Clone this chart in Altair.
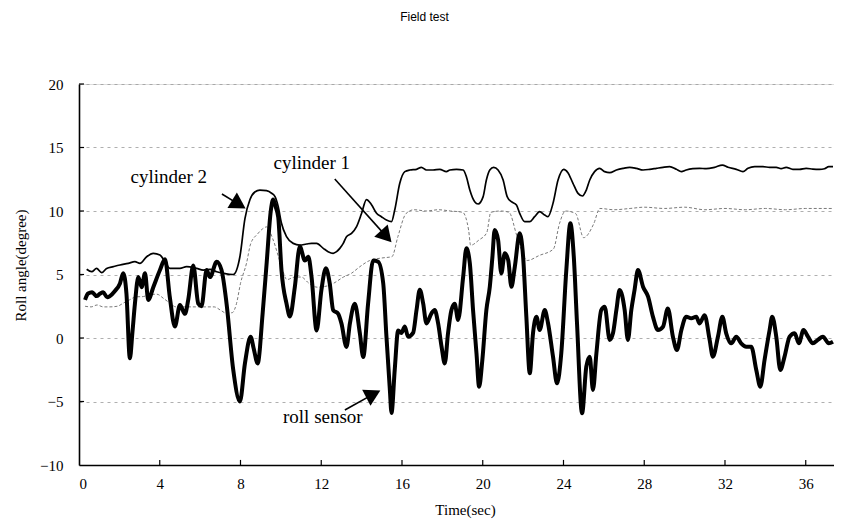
import altair as alt
import pandas as pd

# ---------------- data ----------------
roll_t = [0.30, 0.45, 0.65, 0.87, 1.05, 1.20, 1.40, 1.53, 1.78, 2.03, 2.19, 2.35, 2.52, 2.65, 2.77, 2.94,
          3.10, 3.27, 3.43, 3.68, 4.01, 4.26, 4.50, 4.75, 5.00, 5.25, 5.41, 5.66, 5.91, 6.07, 6.32, 6.49,
          6.82, 7.06, 7.31, 7.64, 7.97, 8.22, 8.50, 8.65, 8.85, 9.10, 9.30, 9.50, 9.62, 9.75, 9.87, 10.03,
          10.28, 10.45, 10.69, 10.94, 11.19, 11.36, 11.52, 11.77, 12.01, 12.23, 12.42, 12.59, 12.84, 13.00,
          13.25, 13.42, 13.66, 13.91, 14.08, 14.32, 14.57, 14.82, 15.07, 15.23, 15.40, 15.48, 15.64, 15.81,
          15.97, 16.14, 16.30, 16.55, 16.72, 16.88, 17.05, 17.21, 17.46, 17.62, 17.79, 17.96, 18.12, 18.28,
          18.45, 18.61, 18.78, 19.03, 19.19, 19.36, 19.52, 19.69, 19.82, 19.98, 20.18, 20.35, 20.48, 20.59,
          20.76, 20.92, 21.09, 21.26, 21.42, 21.59, 21.83, 22.00, 22.16, 22.33, 22.49, 22.66, 22.82, 23.07,
          23.23, 23.48, 23.68, 23.89, 24.14, 24.34, 24.51, 24.67, 24.92, 25.13, 25.30, 25.46, 25.63, 25.87,
          26.04, 26.29, 26.45, 26.62, 26.78, 27.03, 27.19, 27.36, 27.52, 27.69, 27.94, 28.19, 28.43, 28.68,
          28.93, 29.17, 29.42, 29.62, 29.84, 30.08, 30.33, 30.58, 30.74, 30.99, 31.24, 31.40, 31.65, 31.87,
          32.06, 32.31, 32.56, 32.80, 33.05, 33.30, 33.55, 33.75, 33.96, 34.21, 34.34, 34.54, 34.74, 34.95,
          35.20, 35.45, 35.66, 35.89, 36.11, 36.35, 36.60, 36.85, 37.14, 37.35]
roll_v = [3.0, 3.5, 3.6, 3.3, 3.5, 3.6, 3.2, 3.3, 3.7, 4.3, 5.1, 3.5, -1.6, 0.5, 2.7, 4.8,
          4.0, 5.1, 3.0, 4.0, 5.35, 6.2, 3.2, 0.9, 2.6, 1.9, 3.0, 5.7, 2.7, 2.5, 5.35, 4.8,
          6.0, 5.35, 2.7, -2.5, -5.0, -2.0, 0.1, -0.8, -2.0, 2.0, 6.0, 10.0, 10.9, 10.3, 9.5, 5.35,
          2.7, 1.7, 4.0, 7.2, 6.1, 6.4, 4.8, 0.6, 3.8, 5.5, 4.3, 2.2, 1.9, 1.15,
          -0.7, 1.15, 2.7, 0.4, -1.5, 2.7, 6.1, 6.0, 4.3, 0.1, -4.1, -5.9, -2.5, 0.6,
          0.4, 0.9, 0.1, 0.4, 2.2, 3.8, 2.7, 1.15, 1.94, 2.2, 1.15, -0.68, -2.0, 0.37,
          2.2, 2.7, 1.42, 4.83, 7.06, 5.88, 2.2, -1.21, -3.83, -1.73, 2.2, 4.04, 6.4, 8.5,
          7.72, 5.09, 6.67, 6.14, 4.04, 5.62, 8.24, 6.4, 1.68, -2.78, 0.37, 1.68, 0.63, 2.2,
          1.2, -1.47, -3.57, -1.21, 5.35, 9.03, 6.4, 1.15, -5.93, -2.26, -1.47, -4.09, -1.21, 2.2,
          2.47, -0.15, 0.37, 2.2, 3.78, 2.2, -0.15, 2.2, 3.78, 5.35, 4.04, 3.25, 1.68, 0.63,
          0.89, 2.33, 0.1, -0.95, 0.63, 1.68, 1.55, 1.68, 1.15, 1.8, -0.15, -1.47, 0.1, 1.68,
          0.37, -0.42, 0.1, -0.42, -0.68, -0.68, -2.52, -3.83, -1.73, 0.63, 1.68, 0.1, -2.52, -1.47,
          0.1, 0.37, -0.42, 0.63, 0.1, -0.42, -0.15, 0.1, -0.42, -0.3]

cyl2_t = [0.38, 0.63, 0.87, 1.12, 1.37, 1.70, 2.03, 2.44, 2.77, 3.02, 3.35, 3.68, 4.01, 4.26, 4.50, 5.00,
          5.33, 5.83, 6.16, 6.49, 6.82, 7.15, 7.64, 7.97, 8.22, 8.47, 8.71, 8.96, 9.29, 9.54, 9.71, 9.87,
          10.03, 10.28, 10.61, 10.94, 11.27, 11.52, 11.77, 12.10, 12.34, 12.59, 12.76, 12.92, 13.09, 13.25,
          13.50, 13.75, 14.00, 14.24, 14.49, 14.74, 14.98, 15.23, 15.48, 15.64, 15.89, 16.14, 16.39, 16.72,
          16.96, 17.21, 17.54, 17.87, 18.20, 18.37, 18.70, 19.03, 19.19, 19.36, 19.60, 19.77, 20.02, 20.18,
          20.35, 20.54, 20.76, 21.01, 21.21, 21.42, 21.67, 21.83, 22.08, 22.33, 22.57, 22.82, 23.07, 23.23,
          23.48, 23.73, 24.01, 24.22, 24.47, 24.72, 24.94, 25.13, 25.30, 25.54, 25.79, 26.04, 26.29, 26.62,
          26.95, 27.28, 27.61, 27.94, 28.27, 28.60, 28.93, 29.26, 29.59, 29.84, 30.08, 30.41, 30.74, 31.07,
          31.48, 31.87, 32.15, 32.56, 32.89, 33.14, 33.47, 33.88, 34.21, 34.54, 34.78, 35.03, 35.36, 35.69,
          36.02, 36.35, 36.68, 36.93, 37.14, 37.35]
cyl2_v = [5.41, 5.22, 5.48, 5.14, 5.48, 5.62, 5.75, 5.88, 6.01, 5.88, 6.40, 6.67, 6.54, 6.01, 5.48, 5.48,
          5.62, 5.48, 5.35, 5.41, 5.22, 5.10, 5.00, 6.40, 9.40, 10.9, 11.5, 11.65, 11.6, 11.4, 11.13, 10.34,
          9.03, 7.98, 7.45, 7.32, 7.40, 7.45, 7.45, 7.06, 6.80, 6.67, 6.80, 7.06, 7.45, 7.98,
          8.24, 8.77, 9.82, 10.9, 10.5, 9.82, 9.55, 9.29, 9.16, 10.08, 12.18, 13.10, 13.23, 13.28,
          13.44, 13.23, 13.23, 13.28, 13.10, 13.23, 13.28, 13.23, 12.70, 11.65, 10.73, 10.55, 11.13, 12.44,
          13.23, 13.44, 13.23, 12.44, 11.13, 10.73, 10.47, 9.82, 9.16, 9.16, 9.55, 9.95, 9.68, 9.55,
          10.60, 12.44, 13.28, 13.02, 12.18, 11.39, 11.18, 11.65, 12.44, 13.10, 13.36, 13.10, 13.02, 13.23,
          13.36, 13.44, 13.36, 13.23, 13.28, 13.36, 13.44, 13.49, 13.28, 13.10, 13.23, 13.33, 13.36, 13.33,
          13.44, 13.62, 13.44, 13.28, 13.10, 13.36, 13.49, 13.49, 13.44, 13.44, 13.33, 13.44, 13.28, 13.28,
          13.36, 13.30, 13.28, 13.33, 13.49, 13.50]

cyl1_t = [0.30, 0.60, 0.90, 1.20, 1.50, 1.90, 2.20, 2.50, 2.85, 3.10, 3.50, 3.85, 4.20, 4.50, 4.80, 5.50,
          6.20, 6.70, 7.00, 7.30, 7.60, 7.80, 8.00, 8.30, 8.50, 8.85, 9.10, 9.30, 9.60, 10.00, 10.30, 10.70,
          11.00, 11.40, 11.80, 12.30, 12.60, 13.10, 13.50, 13.90, 14.40, 15.00, 15.50, 15.80, 16.20, 16.60,
          17.20, 17.80, 18.40, 19.00, 19.30, 19.40, 19.80, 20.20, 20.40, 20.90, 21.30, 21.70, 22.20, 22.80,
          23.50, 23.80, 24.10, 24.60, 25.00, 25.50, 25.80, 26.50, 27.30, 28.00, 29.00, 30.00, 31.00, 32.00,
          33.00, 34.00, 35.00, 36.00, 37.35]
cyl1_v = [2.50, 2.45, 2.60, 2.45, 2.45, 2.50, 2.75, 3.00, 3.25, 3.25, 3.40, 3.45, 3.10, 2.75, 2.45, 2.45,
          2.45, 2.45, 2.20, 1.95, 2.00, 2.70, 4.30, 5.90, 7.40, 8.20, 8.60, 8.75, 7.80, 5.80, 4.60, 4.80,
          4.80, 4.30, 4.00, 4.10, 4.30, 4.80, 5.10, 5.60, 6.10, 6.30, 6.40, 8.00, 9.80, 10.10,
          10.00, 10.10, 10.00, 9.90, 8.50, 7.30, 7.70, 8.30, 9.90, 10.00, 9.90, 8.00, 6.10, 6.50,
          7.00, 9.00, 10.00, 9.80, 7.90, 9.00, 10.20, 10.10, 10.20, 10.30, 10.20, 10.30, 10.10, 10.20,
          10.10, 10.20, 10.10, 10.20, 10.20]

x_tick_values = [0, 4, 8, 12, 16, 20, 24, 28, 32, 36]
y_tick_values = [-10, -5, 0, 5, 10, 15, 20]

label_text = ["cylinder 2", "cylinder 1", "roll sensor"]
label_t = [4.45, 11.53, 12.08]
label_v = [12.68, 13.78, -6.22]

arrow_t0 = [7.08, 12.67, 13.17]
arrow_v0 = [11.34, 12.52, -5.67]
arrow_t1 = [7.92, 15.22, 14.58]
arrow_v1 = [10.52, 8.00, -4.42]
arrow_angle = [121.3, 137.9, 62.8]

X_DOMAIN = [0, 37.4]
Y_DOMAIN = [-10, 20]
SERIF = "Liberation Serif"

# ---------------- tables ----------------
roll_df = pd.DataFrame({"t": roll_t, "v": roll_v})
cyl2_df = pd.DataFrame({"t": cyl2_t, "v": cyl2_v})
cyl1_df = pd.DataFrame({"t": cyl1_t, "v": cyl1_v})
lab_df = pd.DataFrame({"t": label_t, "v": label_v, "text": label_text})
arr_df = pd.DataFrame({"t0": arrow_t0, "v0": arrow_v0, "t1": arrow_t1, "v1": arrow_v1,
                       "angle": arrow_angle})
xt_df = pd.DataFrame({"t": x_tick_values[1:]})
yt_df = pd.DataFrame({"v": y_tick_values[1:]})

xs = alt.Scale(domain=X_DOMAIN, nice=False, zero=False)
ys = alt.Scale(domain=Y_DOMAIN, nice=False, zero=False)

x_axis = alt.Axis(values=x_tick_values, grid=False, ticks=False, labelPadding=11,
                  labelFont=SERIF, labelFontSize=15, labelColor="black",
                  domainColor="black", domainWidth=1.6,
                  title="Time(sec)", titleFont=SERIF, titleFontSize=15, titleFontWeight="normal",
                  titleColor="black", titleX=386, titleY=44, titleBaseline="middle")
y_axis = alt.Axis(values=y_tick_values, grid=True, ticks=False, labelPadding=16,
                  gridColor="#9a9a9a", gridDash=[3, 4], gridWidth=0.8,
                  labelFont=SERIF, labelFontSize=15, labelColor="black",
                  domainColor="black", domainWidth=1.6,
                  title="Roll angle(degree)", titleFont=SERIF, titleFontSize=15,
                  titleFontWeight="normal", titleColor="black",
                  titleX=-59, titleY=181, titleBaseline="middle", titleAngle=-90)

base_axes = alt.Chart(cyl1_df).mark_line(opacity=0).encode(
    x=alt.X("t:Q", scale=xs, axis=x_axis),
    y=alt.Y("v:Q", scale=ys, axis=y_axis),
)

cyl1_line = alt.Chart(cyl1_df).mark_line(color="#7a7a7a", strokeWidth=1.0, strokeDash=[3, 2],
                                          interpolate="monotone", clip=True).encode(
    x=alt.X("t:Q", scale=xs), y=alt.Y("v:Q", scale=ys))
cyl2_line = alt.Chart(cyl2_df).mark_line(color="black", strokeWidth=1.7,
                                          interpolate="monotone", clip=True).encode(
    x=alt.X("t:Q", scale=xs), y=alt.Y("v:Q", scale=ys))
roll_line = alt.Chart(roll_df).mark_line(color="black", strokeWidth=4.0, strokeJoin="round",
                                          interpolate="monotone", clip=True).encode(
    x=alt.X("t:Q", scale=xs), y=alt.Y("v:Q", scale=ys))

x_ticks = alt.Chart(xt_df).mark_rule(color="black", strokeWidth=1.2).encode(
    x=alt.X("t:Q", scale=xs), y=alt.datum(-10), y2=alt.datum(-9.6))
y_ticks = alt.Chart(yt_df).mark_rule(color="black", strokeWidth=1.2).encode(
    y=alt.Y("v:Q", scale=ys), x=alt.datum(0), x2=alt.datum(0.25))

arrow_lines = alt.Chart(arr_df).mark_rule(color="black", strokeWidth=1.6).encode(
    x=alt.X("t0:Q", scale=xs), y=alt.Y("v0:Q", scale=ys),
    x2="t1:Q", y2="v1:Q")
arrow_heads = alt.Chart(arr_df).mark_point(shape="triangle-up", filled=True, color="black",
                                            size=330, opacity=1).encode(
    x=alt.X("t1:Q", scale=xs), y=alt.Y("v1:Q", scale=ys),
    angle=alt.Angle("angle:Q", scale=None))

labels = alt.Chart(lab_df).mark_text(font=SERIF, fontSize=19, color="black",
                                      align="center", baseline="middle").encode(
    x=alt.X("t:Q", scale=xs), y=alt.Y("v:Q", scale=ys), text="text:N")

chart = alt.layer(
    base_axes, cyl1_line, cyl2_line, roll_line, x_ticks, y_ticks,
    arrow_lines, arrow_heads, labels
).properties(
    width=755, height=381,
    title=alt.TitleParams("Field test", font="Liberation Sans Narrow, Liberation Sans",
                          fontSize=12, fontWeight="normal", color="black",
                          anchor="middle", dx=-32, offset=53),
    autosize=alt.AutoSizeParams(type="none"),
    padding={"left": 71, "top": 76, "right": 0, "bottom": 58},
).configure_view(stroke=None).configure(background="white")

chart.save("out.html", embed_options={"renderer": "svg", "actions": False})
